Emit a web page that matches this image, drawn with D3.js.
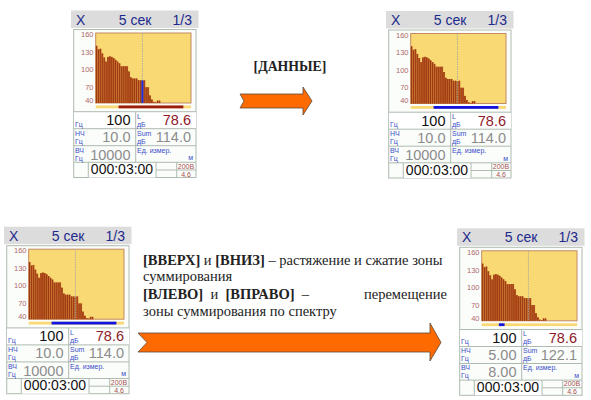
<!DOCTYPE html>
<html><head><meta charset="utf-8">
<style>html,body{margin:0;padding:0;background:#fff}svg{display:block}</style>
<script src="https://cdn.jsdelivr.net/npm/d3@7/dist/d3.min.js"></script>
</head><body><svg id="c" width="591" height="400"></svg>
<script>
const bandIndex = d3.range(50);
const levels = [138,132,133,125,118,111,119,120,119,117,114,111,108,103,103,103,103,94,84,82,82,82,79,79,78.6,79,67,67,53,46,42,41,44,44];
const tickValues = [160,130,100,70,40];
const cursorBand = 24;
const panelOrigins = [[71,10.5],[386,11],[4,226.7],[457,228.3]];
const highlightBand = [24,null,null,null];
const zoneStart = [12,12,12,9];
const zoneEnd = [46,46,46,12];
const zoneColor = ["#9c1c14","#1414e0","#1414e0","#1414e0"];
const lowValues = ["10.0","10.0","10.0","5.00"];
const highValues = ["10000","10000","10000","8.00"];
const sumValues = ["114.0","114.0","114.0","122.1"];
const freqValue = "100", levelValue = "78.6", timerValue = "000:03:00", voltValue = "200В", batteryValue = "4.6";

const svg = d3.select("#c");
const ui = "'Liberation Sans',sans-serif";
const blue="#3a4ec8", gray="#8c8c8c", grid="#aebbb0";

function label(g,x,y,t,size,fill,anchor="start",weight="normal"){
  return g.append("text").attr("x",x).attr("y",y).text(t).attr("font-family",ui).attr("font-size",size)
   .attr("fill",fill).attr("text-anchor",anchor).attr("font-weight",weight);
}
panelOrigins.forEach((o,i)=>{
  const g = svg.append("g").attr("transform",`translate(${o[0]},${o[1]})`);
  g.append("rect").attr("width",127.5).attr("height",17.5).attr("fill","#dcdcdc");
  label(g,5,14,"X",14,"#1c2a8c");
  label(g,64,14,"5 сек",14,"#1c2a8c","middle");
  label(g,121,14,"1/3",14,"#1c2a8c","end");
  g.append("rect").attr("x",2.7).attr("y",19).attr("width",122.3).attr("height",148).attr("fill","#fbfdfb").attr("stroke",grid);
  g.append("rect").attr("x",3).attr("y",101.5).attr("width",122).attr("height",17).attr("fill","#fff");
  g.append("rect").attr("x",17.5).attr("y",152).attr("width",67.5).attr("height",15).attr("fill","#fff");
  [101.2,118.2,135.2,151.8].forEach(y=>g.append("line").attr("x1",2.7).attr("x2",125).attr("y1",y).attr("y2",y).attr("stroke",grid));
  g.append("line").attr("x1",64.7).attr("x2",64.7).attr("y1",101.2).attr("y2",151.8).attr("stroke",grid);
  [17.3,85,105.7].forEach(x=>g.append("line").attr("x1",x).attr("x2",x).attr("y1",151.8).attr("y2",167).attr("stroke",grid));
  g.append("line").attr("x1",85).attr("x2",125).attr("y1",159.5).attr("y2",159.5).attr("stroke",grid);

  const x = d3.scaleBand().domain(bandIndex).range([24.7,120]);
  const y = d3.scaleLinear().domain([160,40]).range([22.5,92.5]);
  g.append("rect").attr("x",24.7).attr("y",22.5).attr("width",95.3).attr("height",70).attr("fill","#f9d973").attr("stroke","#c58a62");
  g.append("g").selectAll("rect").data(levels).join("rect")
    .attr("x",(d,k)=>x(k)).attr("width",x.bandwidth()).attr("y",d=>y(d)).attr("height",d=>y(40)-y(d)).attr("fill","#bd5a22");
  g.append("g").selectAll("rect").data(levels).join("rect")
    .attr("x",(d,k)=>x(k)+0.3).attr("width",x.bandwidth()*0.5).attr("y",d=>y(d)).attr("height",d=>y(40)-y(d)).attr("fill","#9a3812");
  g.append("line").attr("x1",x(cursorBand)+1).attr("x2",x(cursorBand)+1).attr("y1",22.5).attr("y2",92.5)
    .attr("stroke","#a8a8a0").attr("stroke-width",0.9).attr("stroke-dasharray","1.5 1");
  if(highlightBand[i]!==null){
    g.append("rect").attr("x",x(highlightBand[i])).attr("width",x.bandwidth()).attr("y",y(levels[highlightBand[i]])).attr("height",y(40)-y(levels[highlightBand[i]])).attr("fill","#1c2ee0");
  }
  const ax = g.append("g").attr("transform","translate(22.5,0)").call(d3.axisLeft(y).tickValues(tickValues).tickSize(0).tickPadding(0));
  ax.select(".domain").remove();
  ax.selectAll("text").attr("font-family",ui).attr("font-size",7.5).attr("fill","#b06a6a")
    .attr("dy",d=>d===40?"-0.1em":"0.5em");
  g.append("rect").attr("x",24.7).attr("y",95).attr("width",95.3).attr("height",2.8).attr("fill","#f9d973");
  g.append("rect").attr("x",x(zoneStart[i])).attr("y",95).attr("width",x(zoneEnd[i])-x(zoneStart[i])).attr("height",2.8).attr("fill",zoneColor[i]);

  const big=14.5;
  label(g,59.5,114.5,freqValue,big,"#111","end");
  label(g,120,114.5,levelValue,big,"#8e1a2a","end");
  label(g,59.5,131.5,lowValues[i],big,gray,"end");
  label(g,120,131.5,sumValues[i],big,gray,"end");
  label(g,59.5,149,highValues[i],big,gray,"end");
  [[4,116],[4,133],[4,150]].forEach(p=>label(g,p[0],p[1],"Гц",7,blue));
  label(g,4,125,"НЧ",7,blue); label(g,4,142,"ВЧ",7,blue);
  label(g,66,108,"L",7,blue); label(g,66,116,"дБ",7,blue);
  label(g,66,125,"Sum",7,blue); label(g,66,133,"дБ",7,blue);
  label(g,66,142,"Ед. измер.",7,blue); label(g,122,149.5,"м",7,blue,"end");
  label(g,51,163.5,timerValue,14,"#111","middle");
  label(g,115,158,voltValue,7,"#a85050","middle");
  label(g,115,166,batteryValue,7,"#a85050","middle");
});

const serif="'Liberation Serif',serif", ink="#222";
function rich(x,y,parts,anchor,size){
  const t=svg.append("text").attr("x",x).attr("y",y).attr("font-family",serif).attr("font-size",size||14.5).attr("fill",ink).attr("text-anchor",anchor||"start").attr("xml:space","preserve");
  parts.forEach(p=>t.append("tspan").text(p[0]).attr("font-weight",p[1]?"bold":"normal"));
}
rich(290,71,[["[ДАННЫЕ]",1]],"middle",13.8);
rich(143,265,[["[ВВЕРХ]",1],[" и ",0],["[ВНИЗ]",1],[" – растяжение и сжатие зоны",0]]);
rich(143,281,[["суммирования",0]]);
rich(143,298.5,[["[ВЛЕВО]",1],["  и  ",0],["[ВПРАВО]",1],["  –",0]]);
rich(447,298.5,[["перемещение",0]],"end");
rich(143,316,[["зоны суммирования по спектру",0]]);

function arrow(x0,notch,neck,tip,top,bot,headTop,headBot){
  const mid=(top+bot)/2;
  svg.append("path").attr("d",d3.line()([[x0,top],[neck,top],[neck,headTop],[tip,mid],[neck,headBot],[neck,bot],[x0,bot],[notch,mid]])+"Z")
    .attr("fill","#ff6a00").attr("stroke","#5a4a3a").attr("stroke-width",0.8);
}
arrow(240,244,303,312,94,108,87,115);
arrow(138,147,430,441,333,352,323,361);
</script></body></html>
